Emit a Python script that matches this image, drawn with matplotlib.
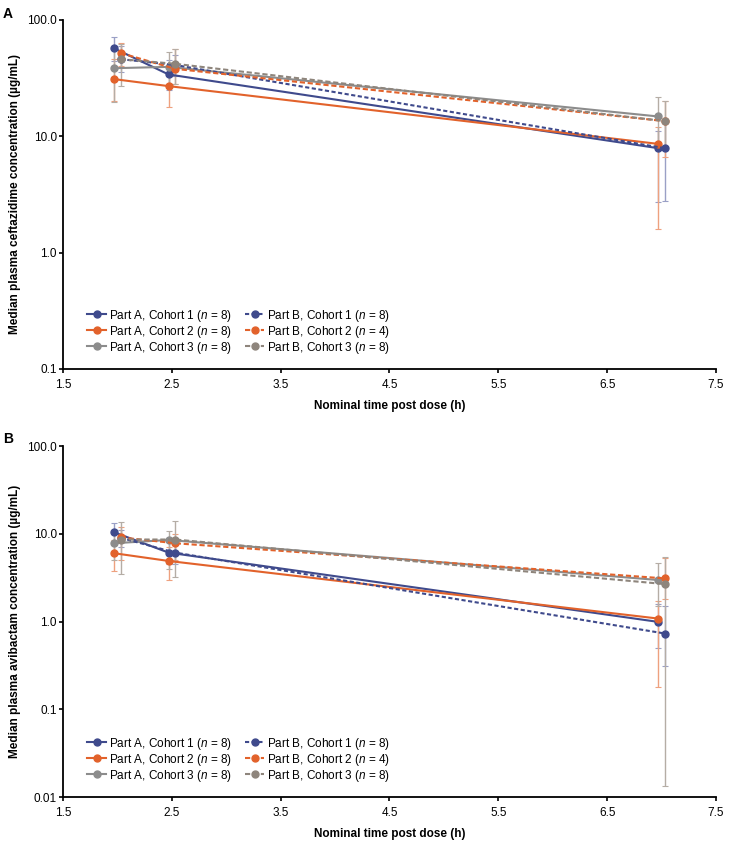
import matplotlib
matplotlib.use('Agg')
import matplotlib.pyplot as plt
from matplotlib.ticker import FixedLocator, NullLocator, FixedFormatter

plt.rcParams['font.family'] = ['Liberation Sans', 'DejaVu Sans']
plt.rcParams['mathtext.fontset'] = 'custom'
plt.rcParams['mathtext.rm'] = 'Liberation Sans'
plt.rcParams['mathtext.it'] = 'Liberation Sans:italic'

# nominal times, Part A drawn slightly left, Part B slightly right
t_part_a = [1.97, 2.47, 6.97]
t_part_b = [2.03, 2.53, 7.03]

labels = [
    r"Part A, Cohort 1 ($\it{n}$ = 8)",
    r"Part A, Cohort 2 ($\it{n}$ = 8)",
    r"Part A, Cohort 3 ($\it{n}$ = 8)",
    r"Part B, Cohort 1 ($\it{n}$ = 8)",
    r"Part B, Cohort 2 ($\it{n}$ = 4)",
    r"Part B, Cohort 3 ($\it{n}$ = 8)",
]

# ceftazidime (panel A): median, lower, upper
caz_med = [[57, 34, 7.9], [31, 27, 8.6], [38.5, 39.5, 14.8],
           [46, 41, 7.9], [52, 38, 13.5], [46, 42, 13.5]]
caz_lo = [[44, 25, 2.7], [20, 18, 1.6], [19.6, 28, 8.0],
          [36, 33, 2.8], [40, 28, 6.7], [27, 28, 8.0]]
caz_hi = [[72, 45, 11], [46, 38, 12], [58, 53, 21.7],
          [60, 50, 13], [64, 56, 20.3], [62, 56, 20]]

# avibactam (panel B)
avi_med = [[10.4, 6.1, 0.99], [6.0, 4.9, 1.08], [7.8, 8.5, 2.97],
           [9.0, 6.1, 0.73], [9.1, 7.8, 3.1], [8.6, 8.6, 2.67]]
avi_lo = [[7.5, 4.5, 0.5], [3.8, 3.0, 0.178], [5.0, 4.0, 1.5],
          [7.0, 4.5, 0.31], [5.0, 5.0, 1.8], [3.5, 3.2, 0.0134]]
avi_hi = [[13.4, 8.0, 1.6], [8.5, 7.0, 1.7], [11, 10.8, 4.6],
          [11, 8.0, 1.5], [12, 10, 5.3], [13.7, 14.1, 5.4]]

colors = ['#3f4a8c', '#e2622b', '#8c8c8c', '#3f4a8c', '#e2622b', '#8e857c']
ecolors = ['#9aa0c6', '#eea17f', '#b5ada5', '#9aa0c6', '#eea17f', '#b5ada5']
styles = ['-', '-', '-', (0, (2, 1.2)), (0, (2.5, 1.3)), (0, (2.5, 1.3))]

fig = plt.figure(figsize=(7.30, 8.42), dpi=100)
ax_a = fig.add_axes([0.0863, 0.5618, 0.8945, 0.4145])
ax_b = fig.add_axes([0.0863, 0.0534, 0.8945, 0.4169])


def draw_panel(ax, med, lo, hi, ylim, yticks, ylabels, ylabel):
    handles = []
    for i in range(6):
        t = t_part_a if i < 3 else t_part_b
        err = [[m - l for m, l in zip(med[i], lo[i])],
               [h - m for m, h in zip(med[i], hi[i])]]
        ax.errorbar(t, med[i], yerr=err, fmt='none', ecolor=ecolors[i],
                    elinewidth=1.0, capsize=2.5, capthick=0.8, zorder=2)
        ln, = ax.plot(t, med[i], color=colors[i], linestyle=styles[i],
                      linewidth=1.5, marker='o', markersize=5, zorder=3,
                      label=labels[i])
        handles.append(ln)
    ax.set_yscale('log')
    ax.set_ylim(*ylim)
    ax.set_xlim(1.5, 7.5)
    ax.xaxis.set_major_locator(FixedLocator([1.5, 2.5, 3.5, 4.5, 5.5, 6.5, 7.5]))
    ax.yaxis.set_major_locator(FixedLocator(yticks))
    ax.yaxis.set_major_formatter(FixedFormatter(ylabels))
    ax.yaxis.set_minor_locator(NullLocator())
    ax.xaxis.set_minor_locator(NullLocator())
    for s in ['top', 'right']:
        ax.spines[s].set_visible(False)
    for s in ['left', 'bottom']:
        ax.spines[s].set_linewidth(1.3)
    ax.tick_params(axis='both', direction='out', length=3, width=1.2,
                   labelsize=8.5, pad=1.5)
    ax.tick_params(axis='x', pad=4)
    ax.set_xlabel("Nominal time post dose (h)", fontsize=8.5,
                  fontweight='bold', labelpad=7)
    ax.set_ylabel(ylabel, fontsize=8.5, fontweight='bold', labelpad=4)
    ax.legend(handles=handles, ncol=2, loc='lower left',
              bbox_to_anchor=(0.03, 0.025), frameon=False, fontsize=8.5,
              handlelength=1.6, handletextpad=0.25, columnspacing=1.1,
              labelspacing=0.0, borderaxespad=0)


draw_panel(ax_a, caz_med, caz_lo, caz_hi, (0.1, 100),
           [0.1, 1, 10, 100], ['0.1', '1.0', '10.0', '100.0'],
           "Median plasma ceftazidime concentration (µg/mL)")
draw_panel(ax_b, avi_med, avi_lo, avi_hi, (0.01, 100),
           [0.01, 0.1, 1, 10, 100], ['0.01', '0.1', '1.0', '10.0', '100.0'],
           "Median plasma avibactam concentration (µg/mL)")

fig.text(0.004, 0.992, "A", fontsize=10, fontweight='bold', va='top')
fig.text(0.004, 0.487, "B", fontsize=10, fontweight='bold', va='top')

fig.savefig("out.png", dpi=100)
